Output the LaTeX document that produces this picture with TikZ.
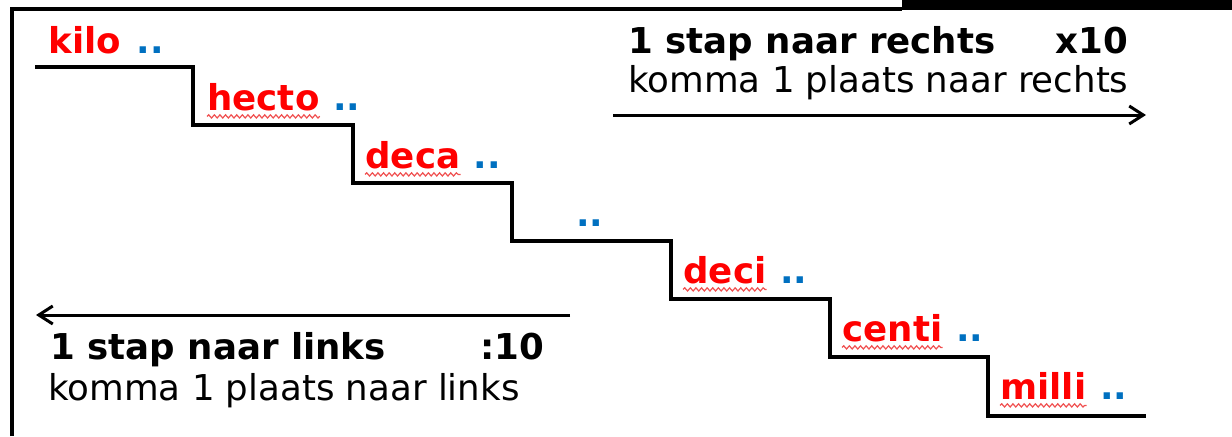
\documentclass[tikz,border=0pt]{standalone}
\usepackage{fontspec}
\setmainfont{DejaVu Sans}
\usetikzlibrary{arrows.meta,positioning,decorations.pathmorphing}
\definecolor{prefixred}{RGB}{255,0,0}
\definecolor{dotblue}{RGB}{0,112,192}
\definecolor{spellred}{RGB}{240,80,80}

\begin{document}
\begin{tikzpicture}[x=0.5pt,y=-0.5pt]
\tikzset{unitlabel/.style = {anchor=base west,inner sep=0pt,text=prefixred,font=\fontsize{17.8}{21}\selectfont\bfseries}}
\tikzset{dots/.style = {inner sep=0pt,text=dotblue,font=\fontsize{17.8}{21}\selectfont\bfseries}}
\tikzset{info/.style = {anchor=base west,inner sep=0pt,font=\fontsize{17.8}{21}\selectfont}}
\tikzset{infobold/.style = {info,font=\fontsize{17.8}{21}\selectfont\bfseries}}
\tikzset{stair/.style = {line width=1.8pt,line join=miter}}
\tikzset{move/.style = {line width=1.5pt,-{Straight Barb[length=7pt,width=9pt,line width=1.5pt]}}}
\tikzset{spell/.style = {spellred,line width=0.6pt,decorate,decoration={snake,amplitude=0.8pt,segment length=2.8pt}}}
\useasboundingbox (0,0) rectangle (1232,436);
% frame
\fill (902,0) rectangle (1232,10);
\draw[line width=1.8pt] (12,436) -- (12,9) -- (902,9);
% stairs
\coordinate (top) at (35,67);
\coordinate (bottom) at (1146,416);
\draw[stair] (top) -| (193,125) -| (353,183) -| (512,241) -| (671,299)
  -| (830,357) -| (988,416) -- (bottom);
% prefixes
\node[unitlabel] (kilo)  at (48,53)   {kilo};
\node[unitlabel] (hecto) at (207,110) {hecto};
\node[unitlabel] (deca)  at (365,168) {deca};
\node[unitlabel] (deci)  at (683,283) {deci};
\node[unitlabel] (centi) at (842,341) {centi};
\node[unitlabel] (milli) at (1000,399) {milli};
\node[dots,base right=7.5pt of kilo]  (kilodots)  {..};
\node[dots,base right=6.5pt of hecto] (hectodots) {..};
\node[dots,base right=6.5pt of deca]  (decadots)  {..};
\node[dots,anchor=base west] (unitdots) at (576,226) {..};
\node[dots,base right=6.5pt of deci]  (decidots)  {..};
\node[dots,base right=6.5pt of centi] (centidots) {..};
\node[dots,base right=6.5pt of milli] (millidots) {..};
\draw[spell] ([yshift=-3.2pt]hecto.base west) -- ([yshift=-3.2pt]hecto.base east);
\draw[spell] ([yshift=-3.2pt]deca.base west) -- ([yshift=-3.2pt]deca.base east);
\draw[spell] ([yshift=-3.2pt]deci.base west) -- ([yshift=-3.2pt]deci.base east);
\draw[spell] ([yshift=-3.2pt]centi.base west) -- ([yshift=-3.2pt]centi.base east);
\draw[spell] ([yshift=-3.2pt]milli.base west) -- ([yshift=-3.2pt]milli.base east);
% right
\node[infobold] (rstep)  at (628,53)  {1 stap naar rechts};
\node[infobold] (rtimes) at (1055,53) {x10};
\node[info]     (rcomma) at (628,92)  {komma 1 plaats naar rechts};
\coordinate (rfrom) at (613,115);
\coordinate (rto)   at (1146,115);
\draw[move] (rfrom) -- (rto);
% left
\coordinate (lfrom) at (570,315);
\coordinate (lto)   at (36,315);
\draw[move] (lfrom) -- (lto);
\node[infobold] (lstep)   at (50,359)  {1 stap naar links};
\node[infobold] (ldivide) at (480,359) {:10};
\node[info]     (lcomma)  at (48,400)  {komma 1 plaats naar links};
\end{tikzpicture}
\end{document}
